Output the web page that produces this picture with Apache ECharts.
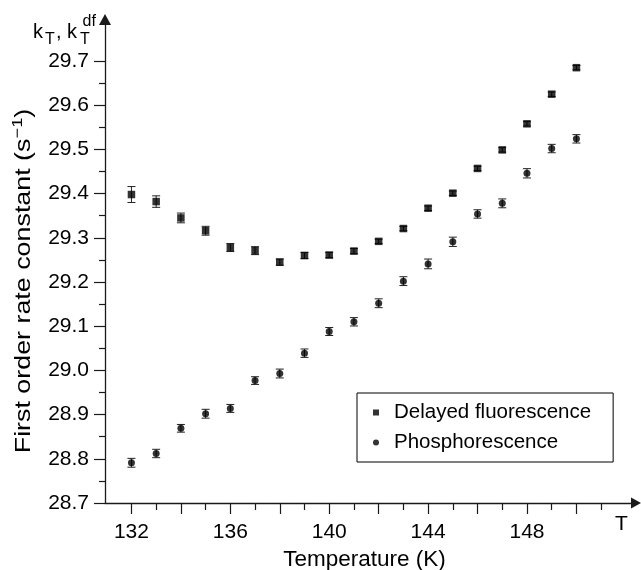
<!DOCTYPE html>
<html><head><meta charset="utf-8">
<script src="https://cdn.jsdelivr.net/npm/echarts@6/dist/echarts.min.js"></script>
<style>html,body{margin:0;padding:0;background:#fff}#c{width:641px;height:570px}</style>
</head><body><div id="c"></div>
<script>
const temperatures = [132,133,134,135,136,137,138,139,140,141,142,143,144,145,146,147,148,149,150];
const delayedFluorescence = [29.398,29.382,29.345,29.316,29.278,29.271,29.245,29.260,29.261,29.270,29.292,29.321,29.367,29.401,29.457,29.499,29.558,29.625,29.685];
const delayedFluorescenceErr = [0.018,0.013,0.011,0.010,0.009,0.009,0.007,0.007,0.006,0.006,0.005,0.005,0.005,0.005,0.005,0.005,0.005,0.005,0.005];
const phosphorescence = [28.791,28.812,28.869,28.902,28.914,28.977,28.993,29.039,29.088,29.110,29.152,29.202,29.241,29.291,29.354,29.378,29.446,29.502,29.524];
const phosphorescenceErr = [0.010,0.0095,0.0087,0.010,0.009,0.0087,0.010,0.0095,0.009,0.0095,0.010,0.010,0.011,0.0105,0.0095,0.010,0.0105,0.0095,0.0095];
const xLabelValues = [132,136,140,144,148];
const xMajorTicks = [132,134,136,138,140,142,144,146,148,150];
const xMinorTicks = [133,135,137,139,141,143,145,147,149,151];
const yLabelValues = [28.7,28.8,28.9,29.0,29.1,29.2,29.3,29.4,29.5,29.6,29.7];
const yMinorTicks = [28.75,28.85,28.95,29.05,29.15,29.25,29.35,29.45,29.55,29.65];
const seriesNames = ['Delayed fluorescence','Phosphorescence'];

const FONT = '"Liberation Sans", Arial, Helvetica, sans-serif';
const INK = '#1a1a1a';
const X_MIN = 130.93, X_MAX = 152.41, Y_MIN = 28.7, Y_MAX = 29.794;

function errSeries(name, vals, errs) {
  return {
    type: 'custom', name: name, silent: true, z: 2,
    data: temperatures.map((t, i) => [t, vals[i], errs[i]]),
    encode: { x: 0, y: 1 },
    renderItem: function (params, api) {
      const x = api.value(0), y = api.value(1), e = api.value(2);
      const hi = api.coord([x, y + e]), lo = api.coord([x, y - e]);
      const hw = 4;
      const st = { stroke: '#222', lineWidth: 1 };
      return { type: 'group', children: [
        { type: 'line', shape: { x1: hi[0], y1: hi[1], x2: lo[0], y2: lo[1] }, style: st },
        { type: 'line', shape: { x1: hi[0] - hw, y1: hi[1], x2: hi[0] + hw, y2: hi[1] }, style: st },
        { type: 'line', shape: { x1: lo[0] - hw, y1: lo[1], x2: lo[0] + hw, y2: lo[1] }, style: st }
      ]};
    }
  };
}

const axisLineStyle = { color: INK, width: 1.3 };
const chart = echarts.init(document.getElementById('c'), null, { renderer: 'canvas' });
chart.setOption({
  animation: false,
  textStyle: { fontFamily: FONT, color: '#000' },
  grid: { left: 105, right: 5, top: 19.5, bottom: 67, containLabel: false, outerBoundsMode: 'none' },
  xAxis: [{
    type: 'value', min: X_MIN, max: X_MAX, position: 'bottom',
    axisLine: { show: true, symbol: ['none', 'triangle'], symbolSize: [11, 10], lineStyle: axisLineStyle },
    axisTick: { show: true, customValues: xMajorTicks, length: 11, lineStyle: { color: INK, width: 1.2 } },
    axisLabel: { show: true, customValues: xLabelValues, fontSize: 21, margin: 19, color: '#000', fontFamily: FONT },
    splitLine: { show: false },
    name: 'Temperature (K)', nameLocation: 'middle', nameGap: 42,
    nameTextStyle: { fontSize: 22.5, color: '#000', fontFamily: FONT, padding: [0, 12, 0, 0] }
  }, {
    type: 'value', min: X_MIN, max: X_MAX, position: 'bottom', offset: 0,
    axisLine: { show: false },
    axisTick: { show: true, customValues: xMinorTicks, length: 7, lineStyle: { color: INK, width: 1.2 } },
    axisLabel: { show: false },
    splitLine: { show: false }
  }],
  yAxis: [{
    type: 'value', min: Y_MIN, max: Y_MAX, position: 'left',
    axisLine: { show: true, symbol: ['none', 'triangle'], symbolSize: [12, 11], lineStyle: axisLineStyle },
    axisTick: { show: true, customValues: yLabelValues, length: 11, lineStyle: { color: INK, width: 1.2 } },
    axisLabel: { show: true, customValues: yLabelValues, fontSize: 21, margin: 16, color: '#000', fontFamily: FONT,
      formatter: v => Number(v).toFixed(1) },
    splitLine: { show: false }
  }, {
    type: 'value', min: Y_MIN, max: Y_MAX, position: 'left', offset: 0,
    axisLine: { show: false },
    axisTick: { show: true, customValues: yMinorTicks, length: 6, lineStyle: { color: INK, width: 1.2 } },
    axisLabel: { show: false },
    splitLine: { show: false }
  }],
  legend: {
    data: [{ name: seriesNames[0], icon: 'rect' }, { name: seriesNames[1], icon: 'circle' }],
    orient: 'vertical', left: 357, top: 393,
    borderColor: '#000', borderWidth: 1, borderRadius: 0,
    padding: [9, 22, 9, 16], itemGap: 9, itemWidth: 6, itemHeight: 6,
    selectedMode: false,
    textStyle: { fontSize: 20.5, color: '#000', fontFamily: FONT, padding: [0, 0, 0, 10] }
  },
  graphic: [
    { type: 'text', x: 24, y: 281, rotation: Math.PI / 2, scaleX: 1.22,
      style: { text: '{a|First order rate constant (s}{b|\u22121}{a|)}', align: 'center', verticalAlign: 'middle',
        rich: {
          a: { fontSize: 22, fill: '#000', fontFamily: FONT },
          b: { fontSize: 15, fill: '#000', fontFamily: FONT, padding: [0, 0, 12, 0] }
        } } },
    { type: 'text', x: 33, y: 32, style: { text: 'k', font: '20px ' + FONT, fill: '#000', textVerticalAlign: 'middle' } },
    { type: 'text', x: 45, y: 40, style: { text: 'T', font: '16px ' + FONT, fill: '#000', textVerticalAlign: 'middle' } },
    { type: 'text', x: 56, y: 32, style: { text: ', k', font: '20px ' + FONT, fill: '#000', textVerticalAlign: 'middle' } },
    { type: 'text', x: 80, y: 40, style: { text: 'T', font: '16px ' + FONT, fill: '#000', textVerticalAlign: 'middle' } },
    { type: 'text', x: 82.5, y: 21.5, style: { text: 'df', font: '16px ' + FONT, fill: '#000', textVerticalAlign: 'middle' } },
    { type: 'text', x: 615, y: 524, style: { text: 'T', font: '21px ' + FONT, fill: '#000', textVerticalAlign: 'middle' } }
  ],
  series: [
    errSeries('dfErr', delayedFluorescence, delayedFluorescenceErr),
    errSeries('phErr', phosphorescence, phosphorescenceErr),
    { type: 'scatter', name: seriesNames[0], z: 3, symbol: 'rect', symbolSize: 7.5,
      itemStyle: { color: '#000' }, data: temperatures.map((t, i) => [t, delayedFluorescence[i]]) },
    { type: 'scatter', name: seriesNames[1], z: 3, symbol: 'circle', symbolSize: 7,
      itemStyle: { color: '#000' }, data: temperatures.map((t, i) => [t, phosphorescence[i]]) }
  ]
});
</script>
</body></html>
